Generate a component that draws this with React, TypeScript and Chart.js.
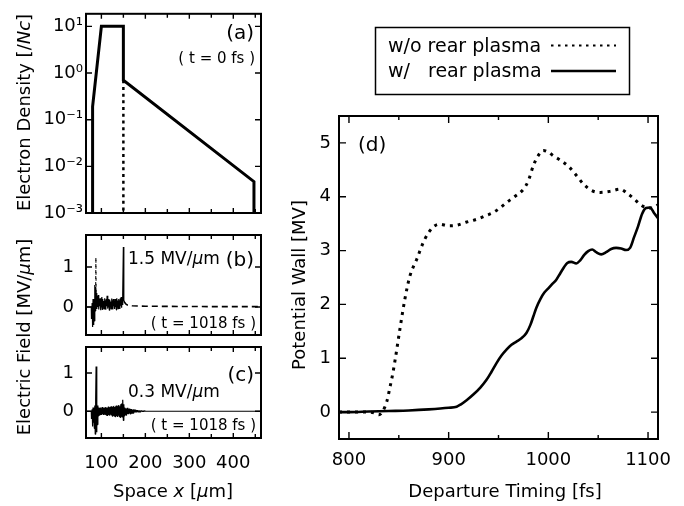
import React, { useEffect, useRef } from "react";
import { Chart, registerables } from "chart.js";
Chart.register(...registerables);

const W = 684;
const H = 506;
const FAMILY = "'DejaVu Sans', sans-serif";

// ---------- Panel (a): electron density at t = 0 fs ----------
const densityX = [80, 80, 100, 150, 150, 447, 447];
const densityY = [0.001, 0.19, 10, 10, 0.7, 0.0047, 0.001];
const densityNoRearX = [150, 150];
const densityNoRearY = [0.7, 0.001];
const densityTicks = [0.001, 0.01, 0.1, 1, 10];
const densityTickLabels = ["10⁻³", "10⁻²", "10⁻¹", "10⁰", "10¹"];

// ---------- shared space axis ----------
const spaceTicks = [100, 200, 300, 400];
const spaceMinorTicks = [150, 250, 350, 450];
const fieldTicks = [0, 1];

// ---------- Panel (b): field, w/o rear plasma ----------
const fieldBLeadX = [65, 77];
const fieldBLeadY = [0, 0];
const fieldBStart = 77;
const fieldBValues = [
  0, -0.3, 0.1, -0.5, 0.2, -0.45, 0.15, -0.35, 0.55, -0.1,
  0.5, 0.05, 0.35, -0.05, 0.28, 0.0, 0.3, -0.06, 0.2, 0.02,
  0.22, -0.08, 0.18, 0.0, 0.25, -0.06, 0.2, 0.03, 0.15, -0.05,
  0.22, 0.0, 0.17, -0.07, 0.2, 0.02, 0.28, -0.04, 0.16, 0.01,
  0.2, -0.08, 0.18, 0.03, 0.14, -0.05, 0.21, 0.0, 0.17, -0.06,
  0.2, 0.02, 0.15, -0.05, 0.2, 0.0, 0.18, -0.07, 0.22, 0.01,
  0.16, -0.04, 0.2, 0.02, 0.17, -0.05, 0.22, 0.03, 0.25, -0.02,
  0.2, 0.05, 0.3, 1.5, 0.15,
];
const fieldBSpikeX = [86.8, 87.5, 88.2];
const fieldBSpikeY = [0.1, 1.24, 0.1];
const fieldBTailX = [151, 153, 156, 160, 170, 185, 200, 250, 300, 350, 400, 463];
const fieldBTailY = [0.15, 0.11, 0.07, 0.045, 0.03, 0.025, 0.02, 0.015, 0.012, 0.01, 0.01, 0.01];

// ---------- Panel (c): field, w/ rear plasma ----------
const fieldCLeadX = [65, 77];
const fieldCLeadY = [0, 0];
const fieldCStart = 77;
const fieldCValues = [
  0, -0.2, 0.05, -0.4, 0.1, -0.3, 0.05, -0.45, 0.15, -0.6,
  0.3, 1.17, -0.55, 0.2, -0.35, 0.15, -0.12, 0.1, -0.1, 0.09,
  -0.08, 0.1, -0.09, 0.08, -0.1, 0.11, -0.07, 0.09, -0.1, 0.08,
  -0.09, 0.1, -0.08, 0.11, -0.1, 0.09, -0.11, 0.1, -0.08, 0.12,
  -0.1, 0.09, -0.12, 0.11, -0.09, 0.13, -0.11, 0.1, -0.13, 0.12,
  -0.1, 0.14, -0.12, 0.11, -0.14, 0.13, -0.1, 0.15, -0.13, 0.12,
  -0.15, 0.14, -0.12, 0.16, -0.14, 0.13, -0.16, 0.18, -0.12, 0.2,
  -0.15, 0.22, 0.3, -0.24, 0.18, -0.12, 0.1, -0.09, 0.08, -0.1,
  0.07, -0.08, 0.09, -0.07, 0.06, -0.08, 0.07, -0.06, 0.05, -0.07,
  0.06, -0.05, 0.06, -0.05, 0.04, -0.05, 0.05, -0.04, 0.04, -0.03,
  0.04, -0.03, 0.03, -0.03, 0.03, -0.02, 0.03, -0.02, 0.02, -0.02,
  0.02, -0.02, 0.02, -0.01, 0.02, -0.01, 0.01, -0.01, 0.01, -0.01,
  0.01, 0, 0.01, 0,
];
const fieldCTailX = [200, 463];
const fieldCTailY = [0, 0];

// ---------- Panel (d): potential wall vs departure timing ----------
const timingNoRear = [790, 800, 810, 820, 826, 830, 834, 838, 841, 844, 847, 851, 856, 861, 868, 876, 884, 891, 900, 908, 918, 928, 936, 945, 952, 958, 966, 975, 980, 985, 990, 995, 1000, 1005, 1012, 1021, 1028, 1035, 1043, 1052, 1062, 1072, 1080, 1086, 1092, 1098, 1104, 1110];
const wallNoRear = [0, 0, 0, 0, -0.02, -0.05, 0.02, 0.2, 0.45, 0.72, 1.05, 1.53, 2.09, 2.52, 2.84, 3.21, 3.43, 3.49, 3.46, 3.47, 3.53, 3.58, 3.64, 3.71, 3.8, 3.89, 4.0, 4.14, 4.3, 4.58, 4.77, 4.86, 4.83, 4.76, 4.68, 4.55, 4.4, 4.24, 4.12, 4.08, 4.1, 4.14, 4.05, 3.96, 3.86, 3.8, 3.79, 3.85];
const timingRear = [790, 800, 820, 840, 860, 880, 900, 908, 912, 918, 925, 932, 938, 943, 948, 953, 958, 963, 968, 973, 978, 982, 985, 988, 992, 996, 1000, 1004, 1008, 1012, 1016, 1019, 1023, 1028, 1032, 1036, 1040, 1044, 1048, 1053, 1058, 1063, 1068, 1073, 1078, 1082, 1086, 1090, 1094, 1098, 1102, 1106, 1110];
const wallRear = [0, 0, 0.01, 0.02, 0.03, 0.05, 0.08, 0.1, 0.14, 0.22, 0.33, 0.46, 0.6, 0.75, 0.91, 1.05, 1.16, 1.25, 1.31, 1.37, 1.47, 1.62, 1.78, 1.94, 2.1, 2.22, 2.3, 2.38, 2.46, 2.58, 2.7, 2.77, 2.79, 2.76, 2.82, 2.92, 2.99, 3.02, 2.97, 2.93, 2.97, 3.03, 3.05, 3.04, 3.01, 3.05, 3.25, 3.45, 3.68, 3.79, 3.8, 3.7, 3.6];
const timingTicks = [800, 900, 1000, 1100];
const timingMinorTicks = [850, 950, 1050];
const wallTicks = [0, 1, 2, 3, 4, 5];
const legendLabels = ["w/o rear plasma", "w/", "rear plasma"];

// ---------- helpers ----------
type Box = { l: number; t: number; r: number; b: number };
const pts = (xs: number[], ys: number[]) => xs.map((x, i) => ({ x, y: ys[i] }));
const grid = (start: number, vals: number[]) => vals.map((y, i) => ({ x: start + i, y }));
const setTicks = (vals: number[]) => (s: any) => {
  s.ticks = vals.map((v) => ({ value: v }));
};

type Part = [string, boolean?];
function rich(ctx: CanvasRenderingContext2D, parts: Part[], x: number, y: number, size: number, align: "left" | "center" | "right", rot = false) {
  ctx.save();
  ctx.translate(x, y);
  if (rot) ctx.rotate(-Math.PI / 2);
  ctx.fillStyle = "#000";
  ctx.textBaseline = "alphabetic";
  ctx.textAlign = "left";
  const fonts = parts.map((p) => `${p[1] ? "italic " : ""}${size}px ${FAMILY}`);
  let total = 0;
  const widths = parts.map((p, i) => {
    ctx.font = fonts[i];
    const w = ctx.measureText(p[0]).width;
    total += w;
    return w;
  });
  let cx = align === "left" ? 0 : align === "center" ? -total / 2 : -total;
  parts.forEach((p, i) => {
    ctx.font = fonts[i];
    ctx.fillText(p[0], cx, 0);
    cx += widths[i];
  });
  ctx.restore();
}

function framePlugin(opts: { xMinor: number[]; majorLen: number; minorLen: number; yLen: number; draw?: (ctx: CanvasRenderingContext2D, chart: any) => void }) {
  return {
    id: "frame",
    afterDatasetsDraw(chart: any) {
      const { ctx, chartArea: a } = chart;
      const xs = chart.scales.x;
      const ys = chart.scales.y;
      ctx.save();
      ctx.strokeStyle = "#000";
      ctx.lineWidth = 1.4;
      ctx.setLineDash([]);
      ctx.beginPath();
      const xTick = (v: number, len: number) => {
        const p = xs.getPixelForValue(v);
        ctx.moveTo(p, a.bottom);
        ctx.lineTo(p, a.bottom - len);
        ctx.moveTo(p, a.top);
        ctx.lineTo(p, a.top + len);
      };
      xs.ticks.forEach((t: any) => xTick(t.value, opts.majorLen));
      opts.xMinor.forEach((v) => xTick(v, opts.minorLen));
      ys.ticks.forEach((t: any) => {
        const p = ys.getPixelForValue(t.value);
        ctx.moveTo(a.left, p);
        ctx.lineTo(a.left + opts.yLen, p);
        ctx.moveTo(a.right, p);
        ctx.lineTo(a.right - opts.yLen, p);
      });
      ctx.stroke();
      ctx.lineWidth = 2;
      ctx.strokeRect(a.left, a.top, a.right - a.left, a.bottom - a.top);
      if (opts.draw) opts.draw(ctx, chart);
      ctx.restore();
    },
  };
}

const tickFont = { family: FAMILY, size: 18 };
const noGrid = { display: false, drawTicks: false, tickLength: 0 };

function baseOptions(box: Box, x: any, y: any) {
  return {
    responsive: false,
    maintainAspectRatio: false,
    animation: false,
    events: [],
    layout: { padding: { left: 0, top: box.t, right: W - box.r, bottom: 0 } },
    plugins: { legend: { display: false }, tooltip: { enabled: false } },
    scales: {
      x: {
        type: "linear",
        position: "bottom",
        grid: noGrid,
        border: { display: false },
        ...x,
        ticks: { color: "#000", font: tickFont, maxRotation: 0, autoSkip: false, callback: (v: number) => String(v), ...(x.ticks || {}) },
        afterFit: (s: any) => {
          s.height = H - box.b;
        },
      },
      y: {
        position: "left",
        grid: noGrid,
        border: { display: false },
        ...y,
        ticks: { color: "#000", font: tickFont, autoSkip: false, callback: (v: number) => String(v), ...(y.ticks || {}) },
        afterFit: (s: any) => {
          s.width = box.l;
        },
      },
    },
  };
}

const lineDs = (data: any[], width: number, dash: number[] = [], join = "miter", mono = false) => ({
  data,
  borderColor: "#000",
  backgroundColor: "#000",
  borderWidth: width,
  borderDash: dash,
  borderJoinStyle: join,
  borderCapStyle: "butt",
  pointRadius: 0,
  fill: false,
  tension: 0,
  ...(mono ? { cubicInterpolationMode: "monotone" } : {}),
});

const boxA: Box = { l: 86, t: 12, r: 261, b: 213 };
const boxB: Box = { l: 86, t: 235, r: 261, b: 335 };
const boxC: Box = { l: 86, t: 347, r: 261, b: 438 };
const boxD: Box = { l: 339, t: 116, r: 658, b: 439 };

const makeA = () => ({
  type: "line",
  data: {
    datasets: [
      lineDs(pts(densityX, densityY), 3),
      lineDs(pts(densityNoRearX, densityNoRearY), 2.5, [3, 3.7]),
    ],
  },
  options: baseOptions(
    boxA,
    { min: 65, max: 463, ticks: { display: false }, afterBuildTicks: setTicks(spaceTicks) },
    {
      type: "logarithmic",
      min: 0.001,
      max: 18.6,
      ticks: { padding: 3, callback: (v: number) => densityTickLabels[densityTicks.indexOf(v)] ?? "" },
      afterBuildTicks: setTicks(densityTicks),
    }
  ),
  plugins: [
    framePlugin({
      xMinor: spaceMinorTicks,
      majorLen: 5,
      minorLen: 4,
      yLen: 6,
      draw: (ctx) => {
        rich(ctx, [["(a)"]], 254, 39, 20, "right");
        rich(ctx, [["( t = 0 fs )"]], 255, 63, 15, "right");
        rich(ctx, [["Electron Density [/"], ["Nc", true], ["]"]], 30, 112.5, 18, "center", true);
      },
    }),
  ],
});

const makeB = () => ({
  type: "line",
  data: {
    datasets: [
      lineDs(pts(fieldBLeadX, fieldBLeadY).concat(grid(fieldBStart, fieldBValues)), 1.2, [], "bevel"),
      lineDs(pts(fieldBSpikeX, fieldBSpikeY), 1, [3, 3]),
      lineDs(pts(fieldBTailX, fieldBTailY), 1.6, [6, 4]),
    ],
  },
  options: baseOptions(
    boxB,
    { min: 65, max: 463, ticks: { display: false }, afterBuildTicks: setTicks(spaceTicks) },
    { type: "linear", min: -0.7, max: 1.8, ticks: { padding: 12 }, afterBuildTicks: setTicks(fieldTicks) }
  ),
  plugins: [
    framePlugin({
      xMinor: spaceMinorTicks,
      majorLen: 5,
      minorLen: 4,
      yLen: 6,
      draw: (ctx) => {
        rich(ctx, [["1.5 MV/"], ["µ", true], ["m"]], 128, 264, 17, "left");
        rich(ctx, [["(b)"]], 254, 266, 20, "right");
        rich(ctx, [["( t = 1018 fs )"]], 256, 328, 15, "right");
        rich(ctx, [["Electric Field [MV/"], ["µ", true], ["m]"]], 30, 337, 18, "center", true);
      },
    }),
  ],
});

const makeC = () => ({
  type: "line",
  data: {
    datasets: [
      lineDs(pts(fieldCLeadX, fieldCLeadY).concat(grid(fieldCStart, fieldCValues), pts(fieldCTailX, fieldCTailY)), 1.2, [], "bevel"),
    ],
  },
  options: baseOptions(
    boxC,
    { min: 65, max: 463, ticks: { padding: 15 }, afterBuildTicks: setTicks(spaceTicks) },
    { type: "linear", min: -0.7, max: 1.68, ticks: { padding: 12 }, afterBuildTicks: setTicks(fieldTicks) }
  ),
  plugins: [
    framePlugin({
      xMinor: spaceMinorTicks,
      majorLen: 5,
      minorLen: 4,
      yLen: 6,
      draw: (ctx) => {
        rich(ctx, [["(c)"]], 254, 381, 20, "right");
        rich(ctx, [["0.3 MV/"], ["µ", true], ["m"]], 128, 397, 17, "left");
        rich(ctx, [["( t = 1018 fs )"]], 256, 429.5, 15, "right");
        rich(ctx, [["Space "], ["x", true], [" ["], ["µ", true], ["m]"]], 173, 497, 18, "center");
      },
    }),
  ],
});

const makeD = () => ({
  type: "line",
  data: {
    datasets: [
      lineDs(pts(timingNoRear, wallNoRear), 3, [3, 5], "round", true),
      lineDs(pts(timingRear, wallRear), 2.6, [], "round", true),
    ],
  },
  options: baseOptions(
    boxD,
    { min: 790, max: 1110, ticks: { padding: 11 }, afterBuildTicks: setTicks(timingTicks) },
    { type: "linear", min: -0.5, max: 5.5, ticks: { padding: 8 }, afterBuildTicks: setTicks(wallTicks) }
  ),
  plugins: [
    framePlugin({
      xMinor: timingMinorTicks,
      majorLen: 7,
      minorLen: 4,
      yLen: 7,
      draw: (ctx) => {
        rich(ctx, [["(d)"]], 358, 150.5, 20, "left");
        rich(ctx, [["Potential Wall [MV]"]], 305, 285, 18, "center", true);
        rich(ctx, [["Departure Timing [fs]"]], 505, 497, 18, "center");
        // legend box
        ctx.lineWidth = 1.5;
        ctx.strokeStyle = "#000";
        ctx.strokeRect(375.5, 27.5, 254, 67);
        rich(ctx, [[legendLabels[0]]], 388, 52, 19, "left");
        rich(ctx, [[legendLabels[1]]], 388, 77, 19, "left");
        rich(ctx, [[legendLabels[2]]], 428, 77, 19, "left");
        ctx.beginPath();
        ctx.lineWidth = 2.2;
        ctx.setLineDash([2.5, 4.5]);
        ctx.moveTo(551, 45.5);
        ctx.lineTo(616, 45.5);
        ctx.stroke();
        ctx.beginPath();
        ctx.setLineDash([]);
        ctx.lineWidth = 2.6;
        ctx.moveTo(551, 71);
        ctx.lineTo(616, 71);
        ctx.stroke();
      },
    }),
  ],
});

function Panel({ make }: { make: () => any }) {
  const ref = useRef<HTMLCanvasElement | null>(null);
  useEffect(() => {
    const chart = new Chart(ref.current as HTMLCanvasElement, make());
    return () => chart.destroy();
  }, [make]);
  return (
    <canvas
      ref={ref}
      width={W}
      height={H}
      style={{ position: "absolute", left: 0, top: 0, width: W, height: H, pointerEvents: "none" }}
    />
  );
}

export default function App() {
  return (
    <div style={{ position: "fixed", left: 0, top: 0, width: W, height: H, background: "#fff", overflow: "hidden" }}>
      <Panel make={makeA} />
      <Panel make={makeB} />
      <Panel make={makeC} />
      <Panel make={makeD} />
    </div>
  );
}
